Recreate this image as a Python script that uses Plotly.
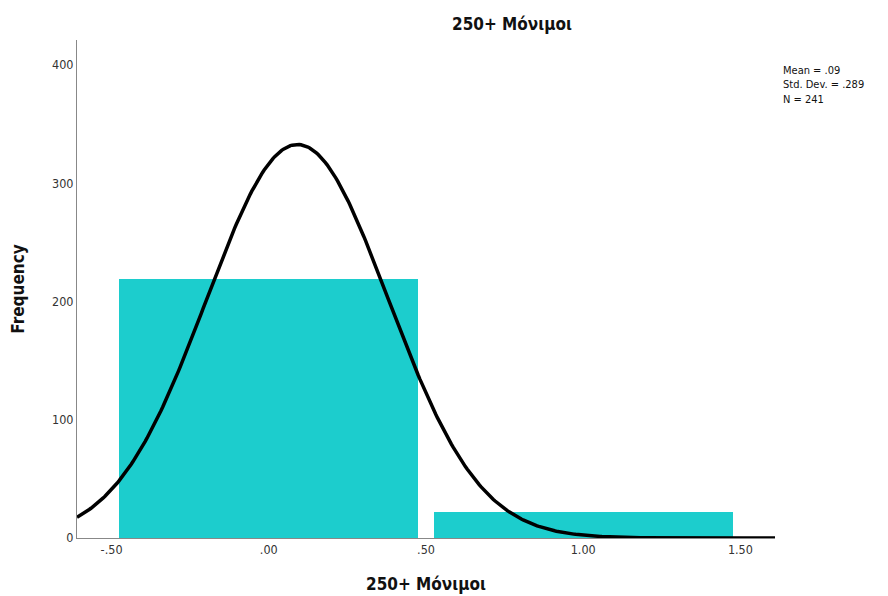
import numpy as np
import plotly.graph_objects as go

categories = [0, 1]
counts = [219, 22]
mean = 0.0913
std_dev = 0.289
n_total = 241
bin_width = 1.0
x_tick_vals = [-0.5, 0.0, 0.5, 1.0, 1.5]
x_tick_text = ["-.50", ".00", ".50", "1.00", "1.50"]
y_tick_vals = [0, 100, 200, 300, 400]
title_text = "250+ Μόνιμοι"
stats_text = "Mean = .09<br>Std. Dev. = .289<br>N = 241"

x_range = [-0.61, 1.61]
xs = np.linspace(x_range[0], x_range[1], 400)
ys = n_total * bin_width / (std_dev * np.sqrt(2 * np.pi)) * np.exp(-0.5 * ((xs - mean) / std_dev) ** 2)

fig = go.Figure()
fig.add_trace(go.Bar(x=categories, y=counts, width=0.95,
                     marker=dict(color="#1ccdcd", line=dict(width=0)),
                     showlegend=False, hoverinfo="skip"))
fig.add_trace(go.Scatter(x=xs, y=ys, mode="lines",
                         line=dict(color="black", width=3.5),
                         showlegend=False, hoverinfo="skip"))

font_family = "DejaVu Sans Condensed, DejaVu Sans, sans-serif"
fig.update_layout(
    width=888, height=596,
    margin=dict(l=77, r=113, t=40, b=58, autoexpand=False),
    paper_bgcolor="white", plot_bgcolor="white",
    font=dict(family=font_family, color="#222222", size=12),
    bargap=0,
    xaxis=dict(range=x_range, tickvals=x_tick_vals, ticktext=x_tick_text,
               showgrid=False, zeroline=False, showline=True, automargin=False,
               linecolor="#888888", linewidth=1, ticks="", ticklen=0,
               tickfont=dict(size=12.5, color="#333333"),
               title=dict(text="<b>" + title_text + "</b>", font=dict(size=17, color="#111111"),
                          standoff=22)),
    yaxis=dict(range=[0, 421], tickvals=y_tick_vals,
               showgrid=False, zeroline=False, showline=True, automargin=False,
               linecolor="#888888", linewidth=1, ticks="", ticklen=0,
               tickfont=dict(size=12.5, color="#333333"),
               title=dict(text="<b>Frequency</b>", font=dict(size=17, color="#111111"),
                          standoff=23)),
    annotations=[
        dict(text="<b>" + title_text + "</b>", xref="paper", yref="paper",
             x=(512 - 77) / 698, y=1.0, yshift=16, xanchor="center", yanchor="middle",
             showarrow=False, font=dict(size=17, color="#111111")),
        dict(text=stats_text, xref="paper", yref="paper",
             x=(781 - 77) / 698, y=(538 - 62) / 498, xanchor="left", yanchor="top",
             align="left", showarrow=False, font=dict(size=11, color="#111111")),
    ],
)

fig.write_html("out.html")
